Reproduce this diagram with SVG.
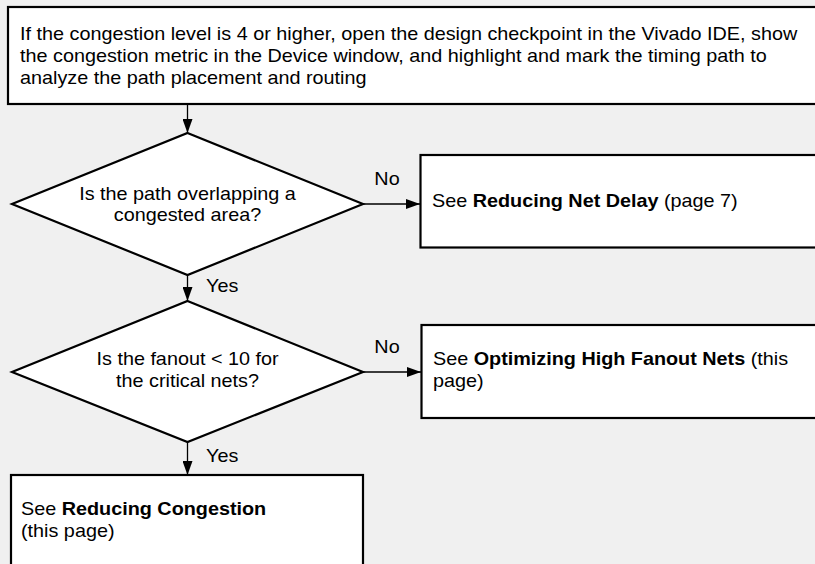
<svg xmlns="http://www.w3.org/2000/svg" width="815" height="564" viewBox="0 0 815 564">
<style>
text{font-family:"Liberation Sans",Arial,sans-serif;font-size:18px;fill:#000}
.b{font-weight:bold}
.c{text-anchor:middle}
.box{fill:#fff;stroke:#000;stroke-width:2.2}
.ln{stroke:#000;stroke-width:1.3;fill:none}
</style>
<defs>
<marker id="ah" viewBox="0 0 14 10" refX="14" refY="5" markerWidth="14" markerHeight="10" markerUnits="userSpaceOnUse" orient="auto">
<path d="M0,0 L14,5 L0,10 Z" fill="#000"/>
</marker>
</defs>
<rect width="815" height="564" fill="#f0f0f0"/>
<g id="connectors">
<line class="ln" x1="187.5" y1="104" x2="187.5" y2="133" marker-end="url(#ah)"/>
<line class="ln" x1="363" y1="204" x2="420" y2="204" marker-end="url(#ah)"/>
<line class="ln" x1="187.5" y1="275" x2="187.5" y2="301" marker-end="url(#ah)"/>
<line class="ln" x1="363" y1="372" x2="421" y2="372" marker-end="url(#ah)"/>
<line class="ln" x1="187.5" y1="442" x2="187.5" y2="475" marker-end="url(#ah)"/>
<text transform="translate(387,185) scale(1.1,1)" class="c">No</text>
<text transform="translate(206,292) scale(1.1,1)">Yes</text>
<text transform="translate(387,353) scale(1.1,1)" class="c">No</text>
<text transform="translate(206,462) scale(1.1,1)">Yes</text>
</g>
<g id="start">
<rect class="box" x="8" y="7" width="815" height="97"/>
<text transform="translate(20,39.5) scale(1.1,1)">If the congestion level is 4 or higher, open the design checkpoint in the Vivado IDE, show</text>
<text transform="translate(20,61.5) scale(1.1,1)">the congestion metric in the Device window, and highlight and mark the timing path to</text>
<text transform="translate(20,83.5) scale(1.1,1)">analyze the path placement and routing</text>
</g>
<g id="decision1">
<polygon class="box" points="187.5,133 363,204 187.5,275 12,204"/>
<text transform="translate(187.5,200) scale(1.1,1)" class="c">Is the path overlapping a</text>
<text transform="translate(187.5,221) scale(1.1,1)" class="c">congested area?</text>
</g>
<g id="netdelay">
<rect class="box" x="420.5" y="155" width="400" height="92.5"/>
<text transform="translate(432,207) scale(1.1,1)">See <tspan class="b">Reducing Net Delay</tspan> (page 7)</text>
</g>
<g id="decision2">
<polygon class="box" points="187.5,301 363,372 187.5,442 12,372"/>
<text transform="translate(187.5,365) scale(1.1,1)" class="c">Is the fanout &lt; 10 for</text>
<text transform="translate(187.5,387) scale(1.1,1)" class="c">the critical nets?</text>
</g>
<g id="fanout">
<rect class="box" x="421.5" y="325" width="400" height="93"/>
<text transform="translate(433,365) scale(1.1,1)">See <tspan class="b">Optimizing High Fanout Nets</tspan> (this</text>
<text transform="translate(433,387) scale(1.1,1)">page)</text>
</g>
<g id="congestion">
<rect class="box" x="11" y="475" width="352" height="100"/>
<text transform="translate(21,515) scale(1.1,1)">See <tspan class="b">Reducing Congestion</tspan></text>
<text transform="translate(21,537) scale(1.1,1)">(this page)</text>
</g>
</svg>
